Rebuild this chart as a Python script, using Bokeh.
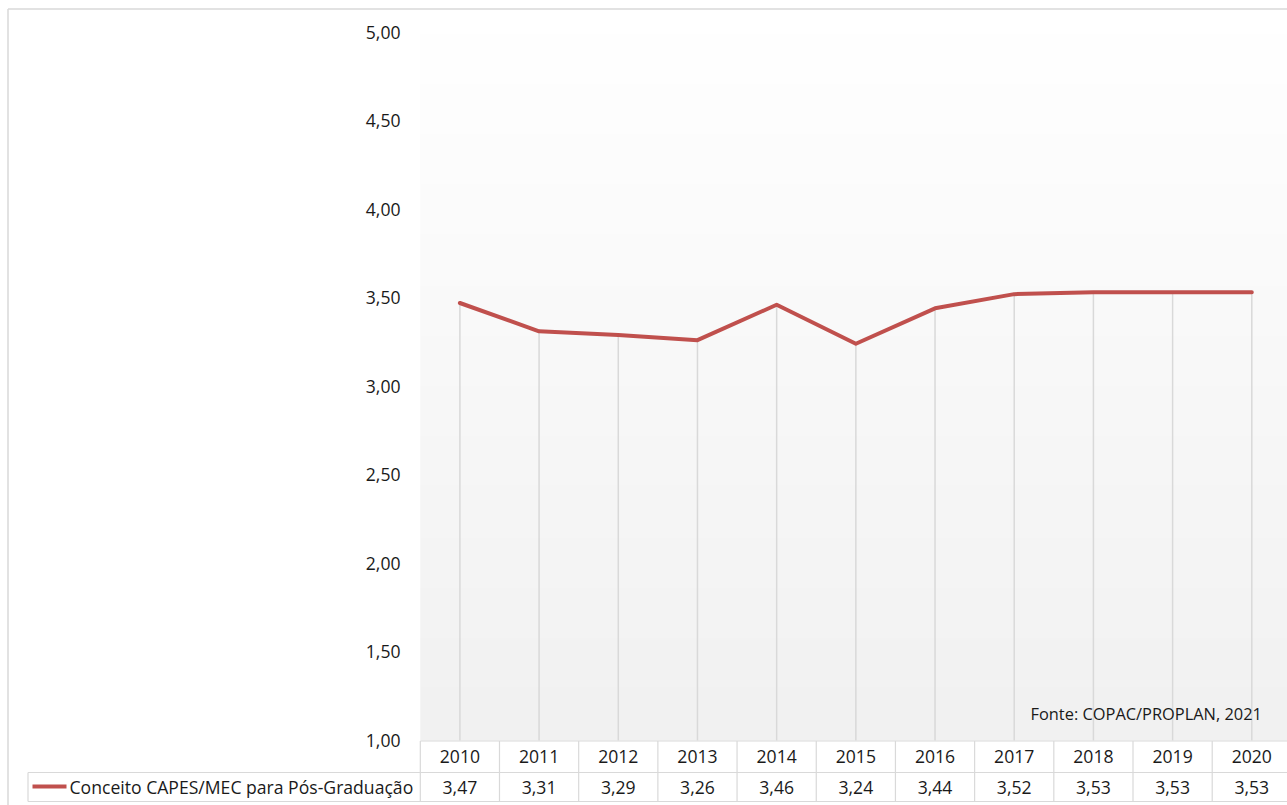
import numpy as np
from bokeh.plotting import figure
from bokeh.models import Range1d, LinearAxis, FixedTicker, CustomJSTickFormatter
from bokeh.core.properties import value
from bokeh.embed import file_html
from bokeh.resources import INLINE

# ---------------- data ----------------
years = ["2010", "2011", "2012", "2013", "2014", "2015", "2016", "2017", "2018", "2019", "2020"]
conceito = [3.47, 3.31, 3.29, 3.26, 3.46, 3.24, 3.44, 3.52, 3.53, 3.53, 3.53]
series_name = "Conceito CAPES/MEC para Pós-Graduação"
y_ticks = [1.0, 1.5, 2.0, 2.5, 3.0, 3.5, 4.0, 4.5, 5.0]
source_note = "Fonte: COPAC/PROPLAN, 2021"

# ---------------- layout helpers (pixel -> data) ----------------
W, H = 1287, 805
LEFT_PX, STEP_PX = 419.8, 79.19        # left edge of first category band, band width
Y1_PX, Y5_PX = 740.0, 31.5             # pixel rows of 1,00 and 5,00
PPU = (Y1_PX - Y5_PX) / 4.0


def X(px):
    return -0.5 + (px - LEFT_PX) / STEP_PX


def Y(py):
    return 1.0 + (Y1_PX - py) / PPU


FONT = value("Open Sans")
FS = "17.6px"
TXT = "#1a1a1a"
GRID = "#d9d9d9"
RED = "#c0504d"

p = figure(width=W, height=H, output_backend="svg", toolbar_location=None,
           x_range=Range1d(X(0), X(W)), y_range=Range1d(Y(H), Y(0)),
           x_axis_location=None, y_axis_location=None,
           min_border=0, min_border_left=0, min_border_right=0,
           min_border_top=0, min_border_bottom=0)
p.outline_line_color = None
p.grid.visible = False
p.background_fill_color = "white"
p.border_fill_color = "white"

# plot-area gradient (white at top -> light grey at bottom)
N = 256
shade = np.linspace(241, 255, N).astype(np.uint32)  # row 0 = bottom
rgba = (255 << 24) | (shade << 16) | (shade << 8) | shade
img = rgba.reshape(N, 1).astype(np.uint32)
p.image_rgba(image=[img], x=X(LEFT_PX), y=1.0, dw=X(W) - X(LEFT_PX), dh=4.0)

# outer chart border
p.segment(x0=[X(7.5), X(7.5)], y0=[Y(8.5), Y(8.5)], x1=[X(7.5), X(W)], y1=[Y(H), Y(8.5)],
          line_color=GRID, line_width=1.5)

idx = list(range(len(years)))

# drop lines
p.segment(x0=idx, y0=[1.0] * len(idx), x1=idx, y1=conceito, line_color=GRID, line_width=1.5)

# series line
p.line(x=idx, y=conceito, line_color=RED, line_width=4, line_join="round", line_cap="round")

# y axis placed inside the canvas
yax = LinearAxis(fixed_location=X(405), ticker=FixedTicker(ticks=y_ticks),
                 formatter=CustomJSTickFormatter(code="return tick.toFixed(2).replace('.', ',');"))
yax.axis_line_color = None
yax.major_tick_line_color = None
yax.minor_tick_line_color = None
yax.major_tick_out = 0
yax.major_tick_in = 0
yax.major_label_standoff = 5
yax.major_label_text_font = "Open Sans"
yax.major_label_text_font_size = FS
yax.major_label_text_color = TXT
p.add_layout(yax, "left")

# source note
p.text(x=[X(1030)], y=[Y(713)], text=[source_note], text_font=FONT, text_font_size="16.4px",
       text_color=TXT, text_align="left", text_baseline="middle")

# ---------------- data table ----------------
row_top, row_mid, row_bot = Y(740.5), Y(772), Y(801)
bounds = [i - 0.5 for i in range(len(years) + 1)]
# vertical cell dividers
p.segment(x0=bounds, y0=[row_top] * len(bounds), x1=bounds, y1=[row_bot] * len(bounds),
          line_color=GRID, line_width=1.2)
# legend cell left border
p.segment(x0=[X(27.5)], y0=[row_mid], x1=[X(27.5)], y1=[row_bot], line_color=GRID, line_width=1.2)
# horizontal lines
p.segment(x0=[-0.5, X(27.5), X(27.5)], y0=[row_top, row_mid, row_bot],
          x1=[X(W), X(W), X(W)], y1=[row_top, row_mid, row_bot],
          line_color=GRID, line_width=1.2)

p.text(x=idx, y=[(row_top + row_mid) / 2] * len(idx), text=years, text_font=FONT,
       text_font_size=FS, text_color=TXT, text_align="center", text_baseline="middle")
value_labels = [f"{v:.2f}".replace(".", ",") for v in conceito]
p.text(x=idx, y=[(row_mid + row_bot) / 2] * len(idx), text=value_labels, text_font=FONT,
       text_font_size=FS, text_color=TXT, text_align="center", text_baseline="middle")

# legend key in table
p.line(x=[X(32), X(66)], y=[Y(786)] * 2, line_color=RED, line_width=4)
p.text(x=[X(69)], y=[Y(786.5)], text=[series_name], text_font=FONT, text_font_size=FS,
       text_color=TXT, text_align="left", text_baseline="middle")

open("out.html", "w").write(file_html(p, INLINE))
